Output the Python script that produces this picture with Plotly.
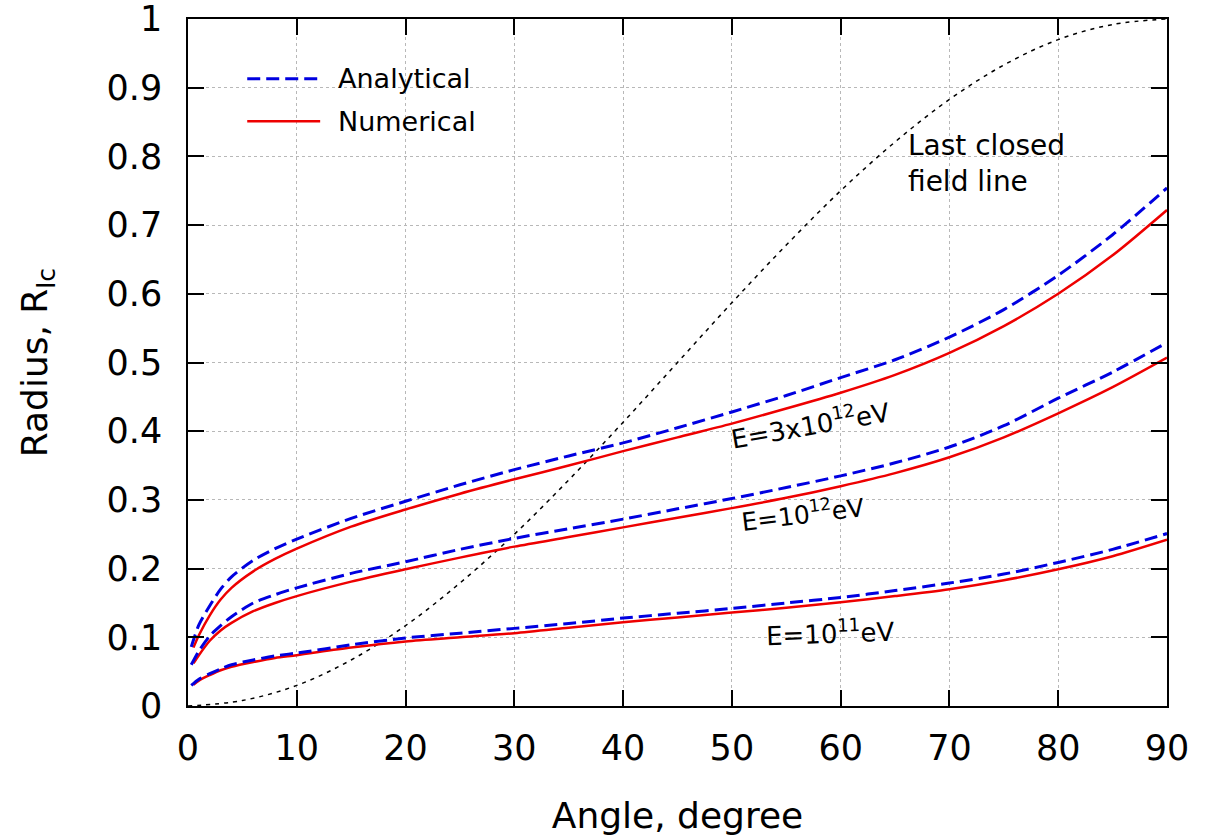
import plotly.graph_objects as go

# Angle grid (degrees)
angle = [0.3, 1, 2, 3, 4, 6, 8, 10, 15, 20, 25, 30, 35, 40, 45, 50, 55, 60, 65, 70, 75, 80, 85, 90]
angle_num = [0.5, 1, 2, 3, 4, 6, 8, 10, 15, 20, 25, 30, 35, 40, 45, 50, 55, 60, 65, 70, 75, 80, 85, 90]

# E = 3x10^12 eV
ana_3e12 = [0.086, 0.118, 0.146, 0.170, 0.188, 0.212, 0.229, 0.243, 0.273, 0.298, 0.322, 0.344, 0.364, 0.383, 0.405, 0.428, 0.452, 0.478, 0.504, 0.537, 0.577, 0.627, 0.686, 0.754]
num_3e12 = [0.085, 0.103, 0.132, 0.155, 0.172, 0.196, 0.214, 0.229, 0.261, 0.286, 0.309, 0.330, 0.350, 0.371, 0.391, 0.411, 0.433, 0.456, 0.482, 0.514, 0.553, 0.600, 0.656, 0.722]

# E = 10^12 eV
ana_1e12 = [0.060, 0.080, 0.102, 0.117, 0.130, 0.150, 0.162, 0.172, 0.193, 0.210, 0.228, 0.244, 0.258, 0.272, 0.287, 0.302, 0.318, 0.335, 0.354, 0.377, 0.408, 0.448, 0.486, 0.529]
num_1e12 = [0.062, 0.074, 0.095, 0.110, 0.121, 0.138, 0.150, 0.160, 0.181, 0.199, 0.216, 0.232, 0.246, 0.260, 0.274, 0.288, 0.303, 0.320, 0.339, 0.362, 0.391, 0.426, 0.464, 0.507]

# E = 10^11 eV
ana_1e11 = [0.030, 0.039, 0.047, 0.054, 0.060, 0.067, 0.073, 0.077, 0.089, 0.099, 0.106, 0.113, 0.120, 0.128, 0.135, 0.142, 0.150, 0.158, 0.168, 0.179, 0.192, 0.209, 0.228, 0.251]
num_1e11 = [0.031, 0.037, 0.045, 0.052, 0.057, 0.064, 0.070, 0.074, 0.085, 0.094, 0.100, 0.106, 0.114, 0.122, 0.129, 0.136, 0.143, 0.151, 0.160, 0.170, 0.183, 0.199, 0.218, 0.242]

# Last closed field line
lcfl_angle = [0, 5, 10, 15, 20, 25, 30, 35, 40, 45, 50, 55, 60, 65, 70, 75, 80, 85, 90]
lcfl_r = [0.0, 0.008, 0.030, 0.067, 0.117, 0.179, 0.250, 0.329, 0.413, 0.500, 0.587, 0.671, 0.750, 0.821, 0.883, 0.933, 0.970, 0.992, 1.0]

x_ticks = [0, 10, 20, 30, 40, 50, 60, 70, 80, 90]
y_ticks = [0, 0.1, 0.2, 0.3, 0.4, 0.5, 0.6, 0.7, 0.8, 0.9, 1]
y_tick_labels = ["0", "0.1", "0.2", "0.3", "0.4", "0.5", "0.6", "0.7", "0.8", "0.9", "1"]

FONT = "DejaVu Sans"
BLUE = "#0000e0"
RED = "#ee0000"

fig = go.Figure()

fig.add_trace(go.Scatter(x=lcfl_angle, y=lcfl_r, mode="lines", line=dict(color="black", width=1.5, dash="4px,5px"),
                         line_shape="spline", showlegend=False, hoverinfo="skip"))

for ana, num in [(ana_3e12, num_3e12), (ana_1e12, num_1e12), (ana_1e11, num_1e11)]:
    fig.add_trace(go.Scatter(x=angle_num, y=num, mode="lines", line=dict(color=RED, width=2.5, smoothing=0.8),
                             line_shape="spline", showlegend=False))
    fig.add_trace(go.Scatter(x=angle, y=ana, mode="lines", line=dict(color=BLUE, width=3, dash="13px,6px", smoothing=0.8),
                             line_shape="spline", showlegend=False))

axis_common = dict(
    showgrid=True, gridcolor="#b8b8b8", griddash="dot", gridwidth=1,
    ticks="inside", ticklen=16, tickwidth=1.5, tickcolor="black",
    showline=True, linecolor="black", linewidth=1.5, mirror="ticks",
    zeroline=False, automargin=False, ticklabeloverflow="allow",
    tickfont=dict(family=FONT, size=35, color="black"),
)

fig.update_xaxes(range=[0, 90], tickvals=x_ticks, ticktext=[str(v) for v in x_ticks], ticklabelstandoff=10,
                 title=dict(text="Angle, degree", font=dict(family=FONT, size=36, color="black"), standoff=36),
                 **axis_common)
fig.update_yaxes(range=[0, 1], tickvals=y_ticks, ticktext=y_tick_labels, ticklabelstandoff=17,
                 title=dict(text="Radius, R<sub>lc</sub>", font=dict(family=FONT, size=36, color="black"), standoff=48),
                 **axis_common)

# Custom legend
fig.add_shape(type="line", xref="paper", yref="paper", x0=0.0605, x1=0.135, y0=0.913, y1=0.913,
              line=dict(color=BLUE, width=3, dash="13px,6px"))
fig.add_shape(type="line", xref="paper", yref="paper", x0=0.0605, x1=0.135, y0=0.851, y1=0.851,
              line=dict(color=RED, width=2.5))
fig.add_annotation(xref="paper", yref="paper", x=0.151, y=0.913, text="Analytical", showarrow=False,
                   xanchor="left", yanchor="middle", font=dict(family=FONT, size=27, color="black"))
fig.add_annotation(xref="paper", yref="paper", x=0.151, y=0.851, text="Numerical", showarrow=False,
                   xanchor="left", yanchor="middle", font=dict(family=FONT, size=27, color="black"))

fig.add_annotation(x=66.0, y=0.79, text="Last closed<br>field line", showarrow=False, xanchor="left",
                   yanchor="middle", align="left", font=dict(family=FONT, size=28, color="black"))
fig.add_annotation(x=57.2, y=0.41, text="E=3x10<sup>12</sup>eV", showarrow=False, textangle=-10,
                   font=dict(family=FONT, size=26, color="black"))
fig.add_annotation(x=56.5, y=0.28, text="E=10<sup>12</sup>eV", showarrow=False, textangle=-7,
                   font=dict(family=FONT, size=25, color="black"))
fig.add_annotation(x=59.0, y=0.108, text="E=10<sup>11</sup>eV", showarrow=False, textangle=-2,
                   font=dict(family=FONT, size=26, color="black"))

fig.update_layout(
    width=1211, height=838,
    margin=dict(l=188, r=44, t=19, b=132),
    plot_bgcolor="white", paper_bgcolor="white",
    showlegend=False,
)

fig.write_html("out.html", config={"displayModeBar": False},
               post_script="document.body.style.margin='0';")
